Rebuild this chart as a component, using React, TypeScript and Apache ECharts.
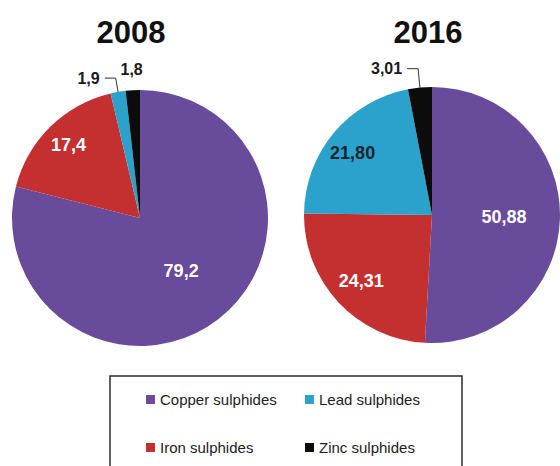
import React, { useEffect, useRef } from "react";
import * as echarts from "echarts";

const categories = ["Copper sulphides", "Iron sulphides", "Lead sulphides", "Zinc sulphides"];
const years = ["2008", "2016"];
const values2008 = [79.2, 17.4, 1.9, 1.8];
const values2016 = [50.88, 24.31, 21.8, 3.01];
const decimals2008 = 1;
const decimals2016 = 2;
const colors = ["#684b9b", "#c4302f", "#2aa2cc", "#0c0c0c"];
const legendOrderCol1 = ["Copper sulphides", "Iron sulphides"];
const legendOrderCol2 = ["Lead sulphides", "Zinc sulphides"];

const fontFamily = "'Liberation Sans', Arial, sans-serif";
const fmt = (v: number, d: number) => v.toFixed(d).replace(".", ",");

const insideLabel = (color: string, extra: any = {}) => ({
  show: true,
  position: "inside",
  color,
  fontSize: 18,
  fontWeight: "bold",
  fontFamily,
  ...extra,
});
const outsideLabel = (extra: any = {}) => ({
  show: true,
  position: "outside",
  color: "#1a1a1a",
  fontSize: 16,
  fontWeight: "bold",
  fontFamily,
  ...extra,
});
const hidden = { show: false };

function buildOption() {
  const C1: [number, number] = [140, 218];
  const C2: [number, number] = [432, 215];
  const R = 128;

  const baseData = (values: number[], labels: any[], lines: any[]) =>
    values.map((v, i) => ({
      name: categories[i],
      value: v,
      itemStyle: { color: colors[i] },
      label: labels[i],
      labelLine: lines[i],
    }));
  const overlayData = (values: number[], labels: any[]) =>
    values.map((v, i) => ({
      name: categories[i] + " (label)",
      value: v,
      itemStyle: { color: "rgba(0,0,0,0)" },
      label: labels[i],
      labelLine: { show: false },
    }));

  const common = {
    type: "pie",
    startAngle: 90,
    clockwise: true,
    avoidLabelOverlap: false,
    animation: false,
    itemStyle: { borderWidth: 0 },
    emphasis: { disabled: true },
  };
  const overlayCommon = { ...common, silent: true, z: 3 };

  const f08 = (p: any) => fmt(p.value, decimals2008);
  const f16 = (p: any) => fmt(p.value, decimals2016);
  const lineStyle = { color: "#333", width: 1 };

  return {
    animation: false,
    backgroundColor: "#ffffff",
    title: [
      {
        text: years[0],
        left: 126,
        top: 12,
        textAlign: "center",
        textStyle: { fontSize: 31, fontWeight: "bold", color: "#111", fontFamily },
      },
      {
        text: years[1],
        left: 423,
        top: 12,
        textAlign: "center",
        textStyle: { fontSize: 31, fontWeight: "bold", color: "#111", fontFamily },
      },
    ],
    legend: [
      {
        orient: "vertical",
        left: 141,
        top: 387,
        itemGap: 33,
        itemWidth: 9,
        itemHeight: 9,
        icon: "rect",
        data: legendOrderCol1,
        selectedMode: false,
        textStyle: { fontSize: 15, color: "#222", fontFamily },
      },
      {
        orient: "vertical",
        left: 300,
        top: 387,
        itemGap: 33,
        itemWidth: 9,
        itemHeight: 9,
        icon: "rect",
        data: legendOrderCol2,
        selectedMode: false,
        textStyle: { fontSize: 15, color: "#222", fontFamily },
      },
    ],
    graphic: [
      {
        type: "rect",
        shape: { x: 110, y: 376, width: 352, height: 110 },
        style: { fill: "rgba(0,0,0,0)", stroke: "#2a2a2a", lineWidth: 1.5 },
        z: 0,
      },
    ],
    series: [
      {
        ...common,
        name: years[0],
        center: C1,
        radius: [0, R],
        label: { formatter: f08 },
        labelLine: { lineStyle },
        data: baseData(
          values2008,
          [insideLabel("#fff"), hidden, outsideLabel(), hidden],
          [{ show: false }, { show: false }, { show: true, length: 14, length2: 11, lineStyle }, { show: false }]
        ),
      },
      {
        ...overlayCommon,
        center: C1,
        radius: [70, R],
        label: { formatter: f08 },
        data: overlayData(values2008, [hidden, insideLabel("#fff"), hidden, hidden]),
      },
      {
        ...overlayCommon,
        center: C1,
        radius: [R, 164],
        label: { formatter: f08 },
        data: overlayData(values2008, [hidden, hidden, hidden, insideLabel("#1a1a1a", { fontSize: 16 })]),
      },
      {
        ...common,
        name: years[1],
        center: C2,
        radius: [0, R],
        label: { formatter: f16 },
        labelLine: { lineStyle },
        data: baseData(
          values2016,
          [insideLabel("#fff", { padding: [20, 0, 0, 10] }), hidden, hidden, outsideLabel()],
          [{ show: false }, { show: false }, { show: false }, { show: true, length: 19, length2: 11, lineStyle }]
        ),
      },
      {
        ...overlayCommon,
        center: C2,
        radius: [60, R],
        label: { formatter: f16 },
        data: overlayData(values2016, [
          hidden,
          insideLabel("#fff"),
          insideLabel("#1a2530", { padding: [16, 10, 0, 0] }),
          hidden,
        ]),
      },
    ],
  };
}

export default function App() {
  const ref = useRef<HTMLDivElement>(null);
  useEffect(() => {
    if (!ref.current) return;
    const chart = echarts.init(ref.current, null, { renderer: "svg" });
    chart.setOption(buildOption() as any);
    return () => chart.dispose();
  }, []);
  return (
    <div
      ref={ref}
      style={{ position: "fixed", left: 0, top: 0, width: 560, height: 466, background: "#fff" }}
    />
  );
}
